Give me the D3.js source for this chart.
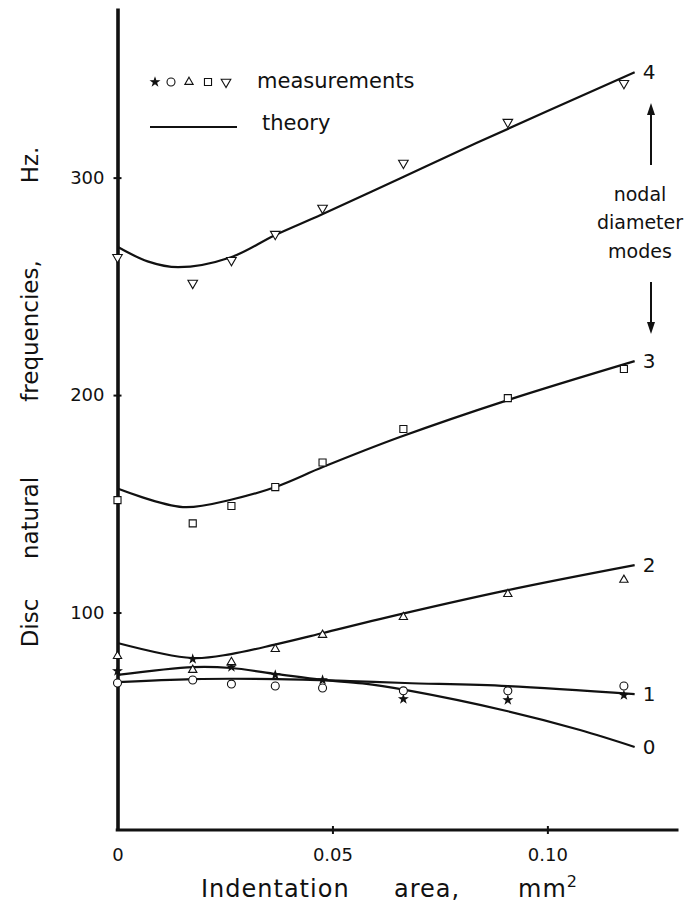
<!DOCTYPE html>
<html lang="en">
<head>
<meta charset="UTF-8" />
<title>Disc natural frequencies vs indentation area</title>
<script src="https://d3js.org/d3.v7.min.js"></script>
<style>
  body { margin: 0; background: #fff; }
  svg { display: block; font-family: "DejaVu Sans", "Lato", sans-serif; fill: #111; }
  .curve { fill: none; stroke: #111; stroke-width: 2.2px; }
  .mark { fill: #fff; stroke: #111; stroke-width: 1.1px; }
  .mark.filled { fill: #111; }
  .axis .domain { stroke: #111; }
  .axis line { stroke: #111; stroke-width: 2px; }
  .axis text { font-family: "DejaVu Sans", sans-serif; font-size: 18px; fill: #111; }
</style>
</head>
<body>
<svg id="chart" width="691" height="914"></svg>
<script>
// axis ticks
const xTicks = [0, 0.05, 0.10];
const xTickLabels = ["0", "0.05", "0.10"];
const yTicks = [100, 200, 300];

// measured points (indentation area mm^2, frequency Hz)
const measX = [0, 0.0175, 0.0265, 0.0367, 0.0477, 0.0665, 0.0908, 0.1178];
const meas0 = [73.1, 78.6, 74.9, 71.3, 69.0, 60.2, 59.8, 62.0];
const meas1 = [67.6, 69.0, 67.1, 66.2, 65.3, 64.0, 64.0, 66.2];
const meas2 = [80.0, 73.6, 77.2, 83.2, 89.7, 97.9, 108.5, 115.0];
const meas3 = [151.7, 141.0, 149.0, 157.7, 169.0, 184.4, 198.6, 212.0];
const meas4 = [263.4, 251.5, 262.0, 274.0, 286.0, 306.7, 325.5, 343.4];

// theory curves
const theory0 = [[0, 71.3], [0.0176, 74.9], [0.0264, 74.5], [0.0371, 71.7], [0.0477, 69.0],
  [0.0570, 67.4], [0.0669, 64.4], [0.0908, 54.6], [0.1076, 46.0], [0.1203, 38.2]];
const theory1 = [[0, 68.0], [0.0176, 69.4], [0.0371, 69.4], [0.0541, 68.5], [0.0669, 67.6],
  [0.0908, 66.2], [0.1203, 62.5]];
const theory2 = [[0, 86.0], [0.0173, 79.1], [0.0264, 80.9], [0.0371, 85.5], [0.0478, 90.6],
  [0.0610, 97.0], [0.0908, 110.3], [0.1203, 121.8]];
const theory3 = [[0, 157.0], [0.0152, 148.5], [0.0266, 152.0], [0.0371, 158.0], [0.0479, 167.0],
  [0.0657, 180.7], [0.0908, 197.7], [0.1203, 215.6]];
const theory4 = [[0, 268.2], [0.0070, 261.5], [0.0141, 258.8], [0.0264, 263.4], [0.0365, 273.4],
  [0.0475, 283.0], [0.0657, 299.6], [0.0836, 316.0], [0.1203, 348.5]];

const modeLabels = ["0", "1", "2", "3", "4"];

const svg = d3.select("#chart");
const x = d3.scaleLinear().domain([0, 0.1305]).range([117.5, 678.5]);
const y = d3.scaleLinear().domain([0, 378]).range([830, 8]);

const theory = [theory0, theory1, theory2, theory3, theory4];
const meas = [meas0, meas1, meas2, meas3, meas4];

// theory lines
const line = d3.line()
  .x(d => x(d[0]))
  .y(d => y(d[1]))
  .curve(d3.curveCatmullRom.alpha(0.5));

svg.append("g")
  .selectAll("path")
  .data(theory)
  .join("path")
  .attr("class", "curve")
  .attr("d", line);

// mode labels at the right end of each curve
svg.append("g")
  .selectAll("text")
  .data(theory)
  .join("text")
  .attr("x", d => x(d[d.length - 1][0]) + 8)
  .attr("y", d => y(d[d.length - 1][1]))
  .attr("dy", "0.36em")
  .attr("font-size", 20)
  .text((d, i) => modeLabels[i]);

// axes
const yAxis = svg.append("g")
  .attr("class", "axis")
  .attr("transform", `translate(${x(0)},0)`)
  .call(d3.axisLeft(y).tickValues(yTicks).tickSize(4).tickSizeOuter(0).tickPadding(9));
yAxis.select(".domain").attr("stroke-width", 3.6);
yAxis.selectAll(".tick line").attr("x1", 4);

const xAxis = svg.append("g")
  .attr("class", "axis")
  .attr("transform", `translate(0,${y(0)})`)
  .call(d3.axisBottom(x).tickValues(xTicks).tickSize(4).tickSizeOuter(0)
    .tickFormat((d, i) => xTickLabels[i]));
xAxis.select(".domain").attr("stroke-width", 3.2)
  .attr("d", `M${x(0) - 1.8},0H${x.range()[1]}`);
xAxis.selectAll(".tick line").attr("y1", -4)
  .attr("display", d => d === 0 ? "none" : null);
xAxis.selectAll(".tick text").attr("y", 25).attr("dy", "0.36em");

// measurement symbols
const symTypes = [d3.symbolStar, d3.symbolCircle, d3.symbolTriangle, d3.symbolSquare, d3.symbolTriangle];
const symSizes = [18, 50, 30, 50, 40];
const symRot = [0, 0, 0, 0, 180];

function symbolPath(i) {
  return d3.symbol().type(symTypes[i]).size(symSizes[i])();
}

meas.forEach((vals, i) => {
  svg.append("g")
    .selectAll("path")
    .data(vals.map((v, j) => [measX[j], v]))
    .join("path")
    .attr("class", i === 0 ? "mark filled" : "mark")
    .attr("d", symbolPath(i))
    .attr("transform", d => `translate(${x(d[0])},${y(d[1])}) rotate(${symRot[i]})`);
});

// legend
const legend = svg.append("g");
const legendX = [155, 171, 189, 208, 226];
legendX.forEach((lx, i) => {
  legend.append("path")
    .attr("class", i === 0 ? "mark filled" : "mark")
    .attr("d", symbolPath(i))
    .attr("transform", `translate(${lx},82) rotate(${symRot[i]})`);
});
legend.append("text")
  .attr("x", 257).attr("y", 88)
  .attr("font-size", 21)
  .text("measurements");
legend.append("line")
  .attr("x1", 150).attr("x2", 237).attr("y1", 127).attr("y2", 127)
  .attr("stroke", "#111").attr("stroke-width", 2);
legend.append("text")
  .attr("x", 262).attr("y", 130)
  .attr("font-size", 21)
  .text("theory");

// "nodal diameter modes" with arrows
const note = svg.append("g").attr("font-size", 19).attr("text-anchor", "middle");
["nodal", "diameter", "modes"].forEach((w, i) => {
  note.append("text").attr("x", 640).attr("y", 195 + i * 28.5).attr("dy", "0.3em").text(w);
});
note.append("line").attr("x1", 651).attr("x2", 651).attr("y1", 165).attr("y2", 112)
  .attr("stroke", "#111").attr("stroke-width", 2);
note.append("path").attr("d", "M651,103L647,115L655,115Z").attr("fill", "#111");
note.append("line").attr("x1", 651).attr("x2", 651).attr("y1", 282).attr("y2", 325)
  .attr("stroke", "#111").attr("stroke-width", 2);
note.append("path").attr("d", "M651,334L647,322L655,322Z").attr("fill", "#111");

// axis titles
const yTitle = [["Disc", 623], ["natural", 518], ["frequencies,", 331], ["Hz.", 165]];
yTitle.forEach(([w, cy]) => {
  svg.append("text")
    .attr("transform", `translate(30,${cy}) rotate(-90)`)
    .attr("text-anchor", "middle")
    .attr("dy", "0.36em")
    .attr("font-size", 23)
    .text(w);
});

const xTitle = svg.append("text").attr("y", 897).attr("font-size", 24).attr("letter-spacing", 1);
xTitle.append("tspan").attr("x", 201).text("Indentation");
xTitle.append("tspan").attr("x", 394).text("area,");
xTitle.append("tspan").attr("x", 518).text("mm");
xTitle.append("tspan").attr("dy", -10).attr("font-size", 16).text("2");
</script>
</body>
</html>
